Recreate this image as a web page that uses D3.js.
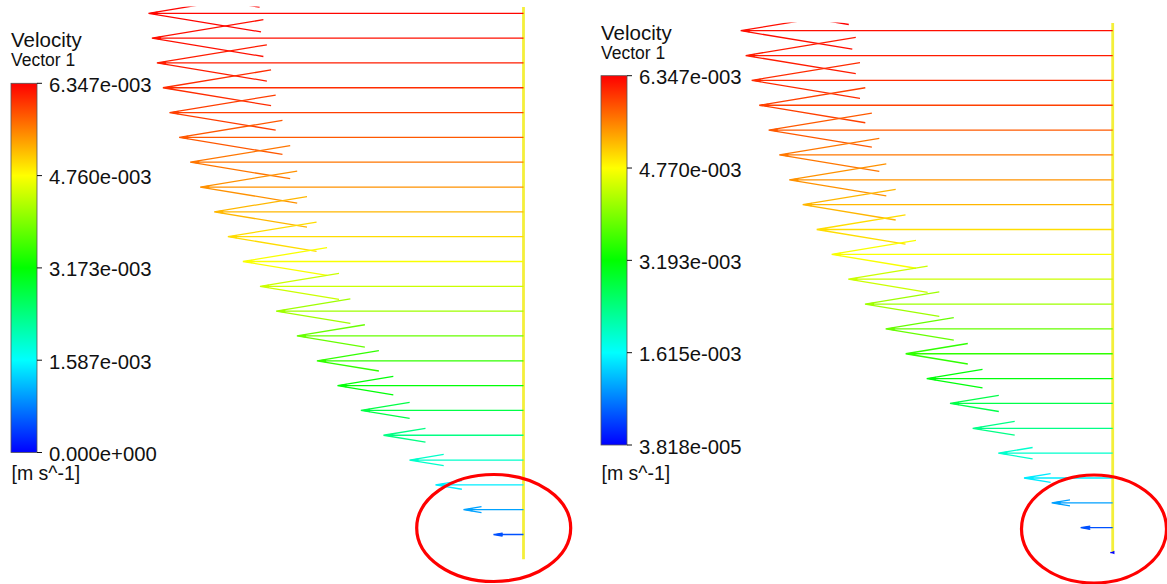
<!DOCTYPE html>
<html>
<head>
<meta charset="utf-8">
<script src="https://cdn.jsdelivr.net/npm/d3@7.9.0/dist/d3.min.js"></script>
<style>
  html, body { margin: 0; padding: 0; background: #fff; }
  svg { display: block; font-family: "Liberation Sans", Arial, sans-serif; }
</style>
</head>
<body>
<svg id="chart" width="1167" height="584"></svg>
<script>
// speeds in 1e-3 m/s, top row first (first row sits above the visible crop)
const leftSpeeds = [6.347, 6.313, 6.256, 6.172, 6.071, 5.960, 5.797, 5.611, 5.443, 5.207, 4.977,
  4.724, 4.436, 4.164, 3.815, 3.478, 3.131, 2.738, 2.357, 1.919, 1.482, 1.010, 0.505, 0];
const rightSpeeds = [6.347, 6.263, 6.179, 6.078, 5.950, 5.792, 5.613, 5.445, 5.219, 4.983, 4.731,
  4.451, 4.170, 3.822, 3.485, 3.131, 2.739, 2.357, 1.926, 1.493, 1.027, 0.539, 0.0382];

const leftTicks = ['6.347e-003', '4.760e-003', '3.173e-003', '1.587e-003', '0.000e+000'];
const rightTicks = ['6.347e-003', '4.770e-003', '3.193e-003', '1.615e-003', '3.818e-005'];
const leftRange = [0, 6.347];
const rightRange = [0.03818, 6.347];

const rainbow = ['#0000ff', '#00ffff', '#00ff00', '#ffff00', '#ff0000'];

const svg = d3.select('#chart');
svg.append('rect').attr('width', 1167).attr('height', 584).attr('fill', '#fff');

// gradient for the colour bars
const grad = svg.append('defs').append('linearGradient')
    .attr('id', 'rainbow')
    .attr('x1', 0).attr('y1', 1).attr('x2', 0).attr('y2', 0);
rainbow.forEach((c, i) => {
    grad.append('stop').attr('offset', i / 4).attr('stop-color', c);
});

function drawPanel(cfg) {
    const { speeds, range, ticks, id } = cfg;

    const color = d3.scaleLinear()
        .domain(d3.range(5).map(i => range[0] + (range[1] - range[0]) * i / 4))
        .range(rainbow)
        .clamp(true);

    const xScale = d3.scaleLinear()
        .domain([0, 6.347])
        .range([cfg.wallX, cfg.wallX - 377]);

    const yScale = d3.scaleLinear()
        .domain([0, speeds.length - 1])
        .range([cfg.rowTop, cfg.rowTop + cfg.step * (speeds.length - 1)]);

    // clip to the cropped screenshot area
    svg.select('defs').append('clipPath').attr('id', 'clip-' + id)
        .append('rect')
        .attr('x', cfg.clip[0]).attr('y', cfg.clipTop)
        .attr('width', cfg.clip[1] - cfg.clip[0]).attr('height', 584 - cfg.clipTop);

    const g = svg.append('g').attr('clip-path', `url(#clip-${id})`);

    // wall line
    g.append('line')
        .attr('x1', cfg.wallX).attr('x2', cfg.wallX)
        .attr('y1', cfg.clipTop + 0.5)
        .attr('y2', yScale(speeds.length - 1))
        .attr('stroke', '#f4ef3a')
        .attr('stroke-width', 2.8);

    const arrows = g.append('g')
        .selectAll('g')
        .data(speeds.map((v, i) => ({ v, i })).filter(d => d.v > 0))
        .join('g');

    arrows.append('path')
        .attr('fill', 'none')
        .attr('stroke', d => color(d.v))
        .attr('stroke-width', 1.3)
        .attr('d', d => {
            const y = yScale(d.i);
            const tip = xScale(d.v);
            const len = cfg.wallX - tip;
            const h = 0.3 * len;
            const w = 0.165 * h;
            return `M${cfg.wallX},${y}H${tip}` +
                `M${tip + h},${y - w}L${tip},${y}L${tip + h},${y + w}`;
        });

    // small solid tip
    arrows.append('path')
        .attr('fill', d => color(d.v))
        .attr('d', d => {
            const y = yScale(d.i);
            const tip = xScale(d.v);
            const len = cfg.wallX - tip;
            const b = Math.min(9, Math.max(4, 0.3 * len));
            return `M${tip},${y}L${tip + b},${y - 1.8}L${tip + b},${y + 1.8}Z`;
        });

    // legend
    const lg = svg.append('g').attr('fill', '#111');
    lg.append('text').attr('x', cfg.legX).attr('y', cfg.titleY)
        .attr('font-size', 20.5).text('Velocity');
    lg.append('text').attr('x', cfg.legX).attr('y', cfg.titleY + 18.5)
        .attr('font-size', 17.5).text('Vector 1');

    const barScale = d3.scaleLinear()
        .domain([0, ticks.length - 1])
        .range([cfg.barTop, cfg.barBottom]);

    lg.append('rect')
        .attr('x', cfg.legX).attr('y', cfg.barTop)
        .attr('width', 26).attr('height', cfg.barBottom - cfg.barTop)
        .attr('fill', 'url(#rainbow)')
        .attr('stroke', '#555')
        .attr('stroke-width', 0.8);

    const tk = lg.selectAll('g.tick')
        .data(ticks)
        .join('g')
        .attr('class', 'tick')
        .attr('transform', (d, i) => `translate(${cfg.legX + 26},${barScale(i)})`);
    tk.append('line').attr('x2', 5).attr('stroke', '#111').attr('stroke-width', 1);
    tk.append('text')
        .attr('x', 12).attr('y', 8.5)
        .attr('font-size', 20.3)
        .text(d => d);

    lg.append('text').attr('x', cfg.legX + 0.5).attr('y', 480)
        .attr('font-size', 19.5).text('[m s^-1]');

    // highlight ellipse
    svg.append('ellipse')
        .attr('cx', cfg.ellipse[0]).attr('cy', cfg.ellipse[1])
        .attr('rx', cfg.ellipse[2]).attr('ry', cfg.ellipse[3])
        .attr('fill', 'none')
        .attr('stroke', '#f00')
        .attr('stroke-width', 3.2);
}

drawPanel({
    id: 'left', speeds: leftSpeeds, range: leftRange, ticks: leftTicks,
    wallX: 523.5, rowTop: 13.3 - 24.82, step: 24.82,
    clipTop: 6.5, clip: [0, 580],
    legX: 11, titleY: 47, barTop: 83.3, barBottom: 452.5,
    ellipse: [493.7, 528, 77, 53.5]
});

drawPanel({
    id: 'right', speeds: rightSpeeds, range: rightRange, ticks: rightTicks,
    wallX: 1112.7, rowTop: 30.7 - 24.85, step: 24.85,
    clipTop: 22.5, clip: [580, 1167],
    legX: 601, titleY: 40, barTop: 75.7, barBottom: 445,
    ellipse: [1094, 529, 72.5, 54]
});
</script>
</body>
</html>
